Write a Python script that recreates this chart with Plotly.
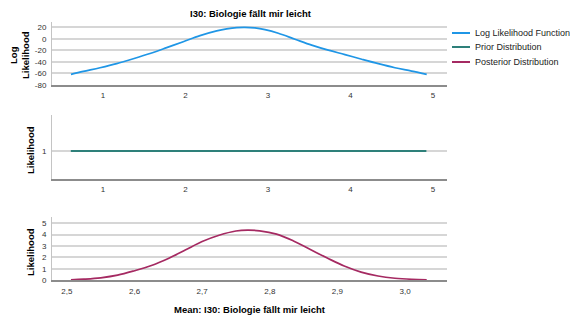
import plotly.graph_objects as go

# ---- data ----
loglik_x = [0.612, 0.761, 0.964, 1.166, 1.367, 1.570, 1.772, 1.973, 2.176, 2.378, 2.499,
            2.621, 2.721, 2.842, 2.964, 3.125, 3.327, 3.530, 3.731, 3.933, 4.136,
            4.337, 4.539, 4.742, 4.924]
loglik_y = [-61.5, -56.5, -50, -42.8, -34.4, -25.3, -15.2, -4.9, 5.6, 13.8, 17.3,
            19.6, 20.1, 19.0, 16.0, 9.8, -0.5, -10.8, -19.6, -27.2, -35.3,
            -43, -50, -55.8, -61.5]

prior_x = [0.61, 4.92]
prior_y = [1, 1]

post_x = [2.506, 2.525, 2.55, 2.575, 2.6, 2.625, 2.65, 2.675, 2.7, 2.725, 2.75, 2.767,
          2.785, 2.81, 2.835, 2.86, 2.885, 2.91, 2.935, 2.96, 2.985, 3.01, 3.032]
post_y = [0.04, 0.10, 0.22, 0.45, 0.84, 1.30, 1.92, 2.65, 3.40, 3.95, 4.32, 4.40,
          4.34, 4.05, 3.45, 2.70, 1.95, 1.25, 0.72, 0.38, 0.18, 0.08, 0.04]

series_names = ["Log Likelihood Function", "Prior Distribution", "Posterior Distribution"]
series_colors = ["#1f96e6", "#2e807a", "#a52a62"]

top_ticks = [20, 0, -20, -40, -60, -80]
top_ticktext = ["20", "0", "-20", "-40", "-60", "-80"]
mean_ticks = [1, 2, 3, 4, 5]
post_xticks = [2.5, 2.6, 2.7, 2.8, 2.9, 3.0]
post_yticks = [0, 1, 2, 3, 4, 5]

title_text = "I30: Biologie fällt mir leicht"
xtitle_text = "Mean: I30: Biologie fällt mir leicht"

# ---- figure ----
W, H = 570, 320
FONT = "Liberation Sans, Arial, sans-serif"
GRID = "#d6d6d6"
AXIS_DARK = "#8c8c8c"
TICK_FONT = dict(family=FONT, size=8, color="#333333")

fig = go.Figure()
fig.add_trace(go.Scatter(x=loglik_x, y=loglik_y, xaxis="x", yaxis="y", mode="lines",
                         line=dict(color=series_colors[0], width=1.7, shape="spline",
                                   smoothing=1),
                         name=series_names[0], showlegend=False))
fig.add_trace(go.Scatter(x=prior_x, y=prior_y, xaxis="x2", yaxis="y2", mode="lines",
                         line=dict(color=series_colors[1], width=2.2),
                         name=series_names[1], showlegend=False))
fig.add_trace(go.Scatter(x=post_x, y=post_y, xaxis="x3", yaxis="y3", mode="lines",
                         line=dict(color=series_colors[2], width=1.7, shape="spline",
                                   smoothing=1),
                         name=series_names[2], showlegend=False))

xdom = [52 / W, 447 / W]


def ydom(top_px, bottom_px):
    return [1 - bottom_px / H, 1 - top_px / H]


def xaxis_common(**kw):
    d = dict(domain=xdom, showgrid=False, zeroline=False, showline=True,
             linecolor=AXIS_DARK, linewidth=1.5, ticks="", tickfont=TICK_FONT,
             ticklabelstandoff=2, automargin=False)
    d.update(kw)
    return d


def yaxis_common(**kw):
    d = dict(showgrid=True, gridcolor=GRID, gridwidth=1.5, zeroline=False,
             showline=True, linecolor="#c4c4c4", linewidth=1, ticks="",
             tickfont=TICK_FONT, ticklabelstandoff=3, automargin=False)
    d.update(kw)
    return d


fig.update_layout(
    width=W, height=H,
    autosize=False,
    margin=dict(l=0, r=0, t=0, b=0, pad=0),
    paper_bgcolor="white", plot_bgcolor="white",
    separators=",.",
    font=dict(family=FONT, size=9, color="#000000"),
    xaxis=xaxis_common(anchor="y", range=[0.382, 5.17], tickvals=mean_ticks),
    yaxis=yaxis_common(anchor="x", domain=ydom(22, 85), range=[-80, 29.3],
                       tickvals=top_ticks, ticktext=top_ticktext),
    xaxis2=xaxis_common(anchor="y2", range=[0.382, 5.17], tickvals=mean_ticks),
    yaxis2=yaxis_common(anchor="x2", domain=ydom(115, 179), range=[0.125, 2.125],
                        tickvals=[1]),
    xaxis3=xaxis_common(anchor="y3", range=[2.478, 3.062], tickvals=post_xticks,
                        tickformat=".1f"),
    yaxis3=yaxis_common(anchor="x3", domain=ydom(217, 280.3), range=[0, 5.55],
                        tickvals=post_yticks),
)

annotations = [
    dict(text="<b>" + title_text + "</b>", x=251 / W, y=1 - 13 / H,
         font=dict(family=FONT, size=9.5)),
    dict(text="<b>" + xtitle_text + "</b>", x=250 / W, y=1 - 309 / H,
         font=dict(family=FONT, size=9.5)),
    dict(text="<b>Log<br>Likelihood</b>", x=19 / W, y=1 - 55 / H, textangle=-90,
         font=dict(family=FONT, size=9.5)),
    dict(text="<b>Likelihood</b>", x=30 / W, y=1 - 150 / H, textangle=-90,
         font=dict(family=FONT, size=9.5)),
    dict(text="<b>Likelihood</b>", x=30 / W, y=1 - 252 / H, textangle=-90,
         font=dict(family=FONT, size=9.5)),
]

# legend drawn as line samples plus labels
legend_rows_px = [33, 47, 62]
shapes = []
for name, color, row in zip(series_names, series_colors, legend_rows_px):
    shapes.append(dict(type="line", xref="paper", yref="paper",
                       x0=452 / W, x1=470 / W, y0=1 - row / H, y1=1 - row / H,
                       line=dict(color=color, width=2)))
    annotations.append(dict(text=name, x=473 / W, y=1 - row / H, xanchor="left",
                            font=dict(family=FONT, size=9, color="#222222")))

for a in annotations:
    a.setdefault("xref", "paper")
    a.setdefault("yref", "paper")
    a.setdefault("showarrow", False)
    a.setdefault("xanchor", "center")
    a.setdefault("yanchor", "middle")

fig.update_layout(annotations=annotations, shapes=shapes)

fig.write_html("out.html")
